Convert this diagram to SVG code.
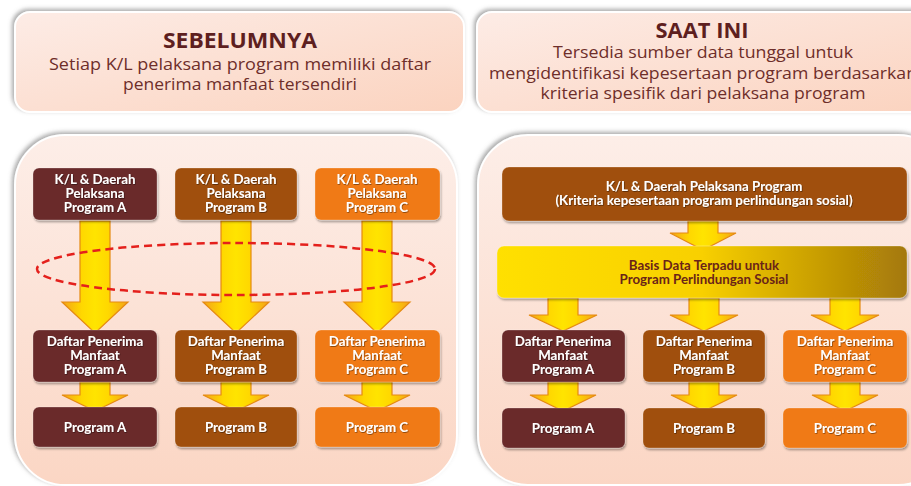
<svg xmlns="http://www.w3.org/2000/svg" width="911" height="486" viewBox="0 0 911 486">
  <defs>
    <linearGradient id="panelHead" x1="0" y1="0" x2="1" y2="1">
      <stop offset="0" stop-color="#fdece6"/>
      <stop offset="1" stop-color="#fbd3bf"/>
    </linearGradient>
    <linearGradient id="panelBody" x1="0" y1="0" x2="0" y2="1">
      <stop offset="0" stop-color="#fdeee8"/>
      <stop offset="1" stop-color="#fbd6c4"/>
    </linearGradient>
    <linearGradient id="arrowFill" x1="0" y1="0" x2="1" y2="0">
      <stop offset="0" stop-color="#f3a21a"/>
      <stop offset="0.3" stop-color="#ffd800"/>
      <stop offset="0.5" stop-color="#ffe400"/>
      <stop offset="0.7" stop-color="#ffd800"/>
      <stop offset="1" stop-color="#f3a21a"/>
    </linearGradient>
    <linearGradient id="basisFill" x1="0" y1="0" x2="1" y2="0">
      <stop offset="0" stop-color="#ffe000"/>
      <stop offset="0.5" stop-color="#f8d000"/>
      <stop offset="1" stop-color="#a47808"/>
    </linearGradient>
    <filter id="panelShadow" x="-5%" y="-10%" width="110%" height="120%">
      <feDropShadow dx="-2" dy="-2" stdDeviation="2" flood-color="#707070" flood-opacity="0.6"/>
    </filter>
    <filter id="boxShadow" x="-5%" y="-10%" width="115%" height="130%">
      <feDropShadow dx="1" dy="2" stdDeviation="1.2" flood-color="#000" flood-opacity="0.35"/>
    </filter>
    <filter id="txtShadow">
      <feDropShadow dx="0.6" dy="0.8" stdDeviation="0.4" flood-color="#000" flood-opacity="0.5"/>
    </filter>
    <!-- arrow shapes centred on x=0 -->
    <path id="arrowLong" d="M-15,221 H15 V302 H33 L0,333 L-33,302 H-15 Z"/>
    <path id="arrowShort" d="M-15,382 H15 V395 H33 L0,411 L-33,395 H-15 Z"/>
    <path id="arrowTop" d="M-15,221 H15 V233 H33 L0,250 L-33,233 H-15 Z"/>
    <path id="arrowMid" d="M-15,298 H15 V315 H34 L0,331 L-34,315 H-15 Z"/>
  </defs>
  <style>
    .panel { stroke: #ffffff; stroke-width: 2; filter: url(#panelShadow); }
    .ttl { font-family: "Open Sans", Lato, sans-serif; font-weight: 700; font-size: 21px; fill: #5e1f1f; text-anchor: middle; }
    .sub { font-family: "Open Sans", Lato, sans-serif; font-size: 16.5px; fill: #6e2e2a; text-anchor: middle; }
    .box { filter: url(#boxShadow); stroke: #ffffff; stroke-opacity: 0.25; stroke-width: 1; }
    .a { fill: #6a2a2a; }
    .b { fill: #a04f0e; }
    .c { fill: #f07a14; }
    .lbl { font-family: Lato, "Open Sans", sans-serif; font-weight: 700; font-size: 13.3px; fill: #ffffff; text-anchor: middle; filter: url(#txtShadow); }
    .lbl2 { font-family: Lato, "Open Sans", sans-serif; font-weight: 700; font-size: 13.3px; fill: #6a2418; text-anchor: middle; }
    .arrow { fill: url(#arrowFill); stroke: #e58a12; stroke-width: 1.2; stroke-linejoin: miter; }
  </style>

  <rect width="911" height="486" fill="#ffffff"/>

  <!-- header panels -->
  <g id="header-left">
    <rect class="panel" x="15" y="12" width="449" height="100" rx="15" fill="url(#panelHead)"/>
    <text class="ttl" x="240" y="48" textLength="154" lengthAdjust="spacingAndGlyphs">SEBELUMNYA</text>
    <text class="sub" x="240" y="70" textLength="382" lengthAdjust="spacingAndGlyphs">Setiap K/L pelaksana program memiliki daftar</text>
    <text class="sub" x="240" y="90" textLength="234" lengthAdjust="spacingAndGlyphs">penerima manfaat tersendiri</text>
  </g>
  <g id="header-right">
    <rect class="panel" x="477" y="12" width="460" height="100" rx="15" fill="url(#panelHead)"/>
    <text class="ttl" x="702" y="38" textLength="93" lengthAdjust="spacingAndGlyphs">SAAT INI</text>
    <text class="sub" x="703" y="58" textLength="300" lengthAdjust="spacingAndGlyphs">Tersedia sumber data tunggal untuk</text>
    <text class="sub" x="703" y="79" textLength="428" lengthAdjust="spacingAndGlyphs">mengidentifikasi kepesertaan program berdasarkan</text>
    <text class="sub" x="703" y="99" textLength="325" lengthAdjust="spacingAndGlyphs">kriteria spesifik dari pelaksana program</text>
  </g>

  <!-- body panels -->
  <g id="panel-left">
    <rect class="panel" x="15" y="135" width="442" height="350" rx="50" fill="url(#panelBody)"/>
  </g>
  <g id="panel-right">
    <rect class="panel" x="478" y="135" width="470" height="350" rx="50" fill="url(#panelBody)"/>
  </g>

  <!-- connectors -->
  <g id="connectors">
    <use href="#arrowLong" class="arrow" transform="translate(95,0)"/>
    <use href="#arrowLong" class="arrow" transform="translate(236,0)"/>
    <use href="#arrowLong" class="arrow" transform="translate(377,0)"/>
    <use href="#arrowShort" class="arrow" transform="translate(95,0)"/>
    <use href="#arrowShort" class="arrow" transform="translate(236,0)"/>
    <use href="#arrowShort" class="arrow" transform="translate(377,0)"/>
    <use href="#arrowTop" class="arrow" transform="translate(703,0)"/>
    <use href="#arrowMid" class="arrow" transform="translate(563,0)"/>
    <use href="#arrowMid" class="arrow" transform="translate(704,0)"/>
    <use href="#arrowMid" class="arrow" transform="translate(845,0)"/>
    <use href="#arrowShort" class="arrow" transform="translate(563,0)"/>
    <use href="#arrowShort" class="arrow" transform="translate(704,0)"/>
    <use href="#arrowShort" class="arrow" transform="translate(845,0)"/>
    <ellipse cx="236" cy="269" rx="199" ry="26" fill="none" stroke="#e4201c" stroke-width="2.5" stroke-dasharray="8 5"/>
  </g>

  <!-- left: separate lists per program -->
  <g id="kl-a">
    <rect class="box a" x="33" y="168" width="124" height="52" rx="6"/>
    <text class="lbl" x="95" y="183.5">K/L &amp; Daerah</text>
    <text class="lbl" x="95" y="197.5">Pelaksana</text>
    <text class="lbl" x="95" y="211.5">Program A</text>
  </g>
  <g id="kl-b">
    <rect class="box b" x="175" y="168" width="122" height="52" rx="6"/>
    <text class="lbl" x="236" y="183.5">K/L &amp; Daerah</text>
    <text class="lbl" x="236" y="197.5">Pelaksana</text>
    <text class="lbl" x="236" y="211.5">Program B</text>
  </g>
  <g id="kl-c">
    <rect class="box c" x="315" y="168" width="125" height="52" rx="6"/>
    <text class="lbl" x="377" y="183.5">K/L &amp; Daerah</text>
    <text class="lbl" x="377" y="197.5">Pelaksana</text>
    <text class="lbl" x="377" y="211.5">Program C</text>
  </g>
  <g id="daftar-a-left">
    <rect class="box a" x="33" y="330" width="124" height="52" rx="6"/>
    <text class="lbl" x="95" y="345.5">Daftar Penerima</text>
    <text class="lbl" x="95" y="359.5">Manfaat</text>
    <text class="lbl" x="95" y="373.5">Program A</text>
  </g>
  <g id="daftar-b-left">
    <rect class="box b" x="175" y="330" width="122" height="52" rx="6"/>
    <text class="lbl" x="236" y="345.5">Daftar Penerima</text>
    <text class="lbl" x="236" y="359.5">Manfaat</text>
    <text class="lbl" x="236" y="373.5">Program B</text>
  </g>
  <g id="daftar-c-left">
    <rect class="box c" x="315" y="330" width="125" height="52" rx="6"/>
    <text class="lbl" x="377" y="345.5">Daftar Penerima</text>
    <text class="lbl" x="377" y="359.5">Manfaat</text>
    <text class="lbl" x="377" y="373.5">Program C</text>
  </g>
  <g id="program-a-left">
    <rect class="box a" x="33" y="407" width="124" height="40" rx="6"/>
    <text class="lbl" x="95" y="432">Program A</text>
  </g>
  <g id="program-b-left">
    <rect class="box b" x="175" y="407" width="122" height="40" rx="6"/>
    <text class="lbl" x="236" y="432">Program B</text>
  </g>
  <g id="program-c-left">
    <rect class="box c" x="315" y="407" width="125" height="40" rx="6"/>
    <text class="lbl" x="377" y="432">Program C</text>
  </g>

  <!-- right: single integrated database -->
  <g id="kl-all">
    <rect class="box b" x="502" y="167" width="405" height="54" rx="7"/>
    <text class="lbl" x="704" y="191">K/L &amp; Daerah Pelaksana Program</text>
    <text class="lbl" x="704" y="205">(Kriteria kepesertaan program perlindungan sosial)</text>
  </g>
  <g id="basis-data">
    <rect x="497" y="246" width="410" height="52" rx="7" fill="url(#basisFill)" stroke="#ffffff" stroke-opacity="0.3" filter="url(#boxShadow)"/>
    <text class="lbl2" x="704" y="270">Basis Data Terpadu untuk</text>
    <text class="lbl2" x="704" y="284">Program Perlindungan Sosial</text>
  </g>
  <g id="daftar-a-right">
    <rect class="box a" x="502" y="330" width="123" height="52" rx="6"/>
    <text class="lbl" x="563" y="345.5">Daftar Penerima</text>
    <text class="lbl" x="563" y="359.5">Manfaat</text>
    <text class="lbl" x="563" y="373.5">Program A</text>
  </g>
  <g id="daftar-b-right">
    <rect class="box b" x="643" y="330" width="122" height="52" rx="6"/>
    <text class="lbl" x="704" y="345.5">Daftar Penerima</text>
    <text class="lbl" x="704" y="359.5">Manfaat</text>
    <text class="lbl" x="704" y="373.5">Program B</text>
  </g>
  <g id="daftar-c-right">
    <rect class="box c" x="783" y="330" width="124" height="52" rx="6"/>
    <text class="lbl" x="845" y="345.5">Daftar Penerima</text>
    <text class="lbl" x="845" y="359.5">Manfaat</text>
    <text class="lbl" x="845" y="373.5">Program C</text>
  </g>
  <g id="program-a-right">
    <rect class="box a" x="502" y="408" width="123" height="40" rx="6"/>
    <text class="lbl" x="563" y="433">Program A</text>
  </g>
  <g id="program-b-right">
    <rect class="box b" x="643" y="408" width="122" height="40" rx="6"/>
    <text class="lbl" x="704" y="433">Program B</text>
  </g>
  <g id="program-c-right">
    <rect class="box c" x="783" y="408" width="124" height="40" rx="6"/>
    <text class="lbl" x="845" y="433">Program C</text>
  </g>
</svg>
